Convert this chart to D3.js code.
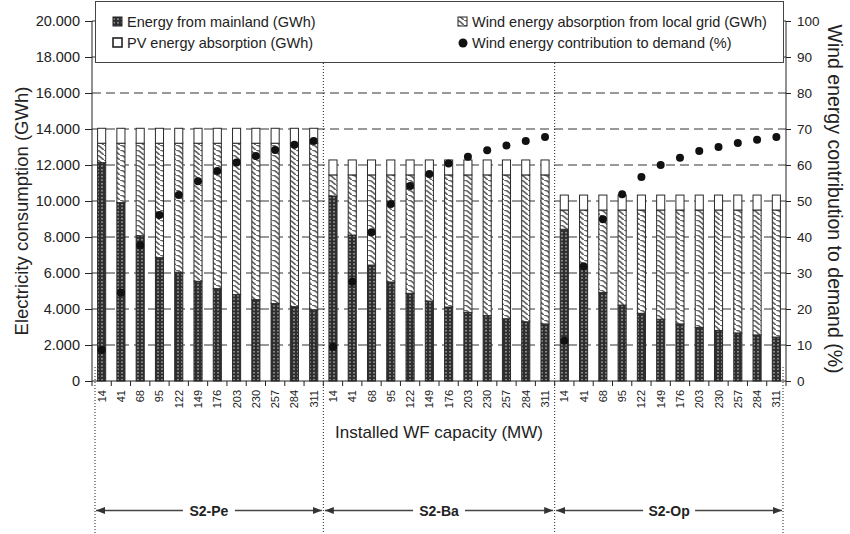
<!DOCTYPE html>
<html>
<head>
<meta charset="utf-8">
<script src="https://cdn.jsdelivr.net/npm/d3@7"></script>
<style>
  body { margin: 0; background: #fff; }
  svg { font-family: Arial, "Liberation Sans", sans-serif; }
</style>
</head>
<body>
<div id="chart"></div>
<script>
// capacities (MW) repeated for each scenario group
var capacities = [14, 41, 68, 95, 122, 149, 176, 203, 230, 257, 284, 311];
var groups = ["S2-Pe", "S2-Ba", "S2-Op"];

// GWh, 12 bars per group, in group order
var mainland = [
  12130, 9910, 8070, 6850, 6040, 5540, 5130, 4800, 4520, 4300, 4130, 3960,
  10280, 8110, 6440, 5500, 4870, 4440, 4110, 3810, 3630, 3460, 3290, 3170,
  8430, 6260, 4910, 4220, 3760, 3430, 3170, 2980, 2810, 2670, 2560, 2440
];
var windAbs = [
  1080, 3300, 5140, 6360, 7170, 7670, 8080, 8410, 8690, 8910, 9080, 9250,
  1170, 3340, 5010, 5950, 6580, 7010, 7340, 7640, 7820, 7990, 8160, 8280,
  1070, 3240, 4590, 5280, 5740, 6070, 6330, 6520, 6690, 6830, 6940, 7060
];
var pvAbs = [
  830, 830, 830, 830, 830, 830, 830, 830, 830, 830, 830, 830,
  830, 830, 830, 830, 830, 830, 830, 830, 830, 830, 830, 830,
  830, 830, 830, 830, 830, 830, 830, 830, 830, 830, 830, 830
];
// %
var windShare = [
  8.6, 24.5, 37.7, 46.1, 51.7, 55.5, 58.3, 60.7, 62.5, 64.2, 65.6, 66.7,
  9.5, 27.6, 41.3, 49.2, 54.2, 57.5, 60.4, 62.3, 64.1, 65.4, 66.7, 67.8,
  11.2, 31.9, 44.9, 51.9, 56.7, 60.0, 62.0, 63.9, 65.0, 66.1, 67.0, 67.8
];
var leftTicks = [0, 2000, 4000, 6000, 8000, 10000, 12000, 14000, 16000, 18000, 20000];
var rightTicks = [0, 10, 20, 30, 40, 50, 60, 70, 80, 90, 100];

var width = 850, height = 534;
var pLeft = 92, pRight = 786, pTop = 21, pBottom = 381;

// build rows
var rows = [];
groups.forEach(function(g, gi) {
  capacities.forEach(function(c, ci) {
    var i = gi * 12 + ci;
    rows.push({ key: g + "-" + c, group: g, cap: c,
      mainland: mainland[i], wind: windAbs[i], pv: pvAbs[i], share: windShare[i] });
  });
});

var svg = d3.select("#chart").append("svg")
  .attr("width", width).attr("height", height);

var defs = svg.append("defs");
var pMain = defs.append("pattern").attr("id", "pMain")
  .attr("patternUnits", "userSpaceOnUse").attr("width", 4).attr("height", 3.5);
pMain.append("rect").attr("width", 4).attr("height", 3.5).attr("fill", "#2e2e2e");
pMain.append("rect").attr("x", 1.2).attr("y", 1).attr("width", 1.6).attr("height", 1.3).attr("fill", "#bdbdbd");

var pWind = defs.append("pattern").attr("id", "pWind")
  .attr("patternUnits", "userSpaceOnUse").attr("width", 8).attr("height", 5);
pWind.append("rect").attr("width", 8).attr("height", 5).attr("fill", "#fff");
pWind.append("path").attr("d", "M0,0 C4,0 5,3 8,5").attr("fill", "none")
  .attr("stroke", "#666").attr("stroke-width", 1.6);

var x = d3.scaleBand()
  .domain(rows.map(function(d) { return d.key; }))
  .range([pLeft, pRight])
  .paddingInner(0.58).paddingOuter(0.29);
var step = x.step();

var y = d3.scaleLinear().domain([0, 20000]).range([pBottom, pTop]);
var y2 = d3.scaleLinear().domain([0, 100]).range([pBottom, pTop]);

// dashed gridlines
svg.append("g").selectAll("line")
  .data(leftTicks.filter(function(t) { return t > 0; }))
  .enter().append("line")
  .attr("x1", pLeft).attr("x2", pRight)
  .attr("y1", function(d) { return y(d); }).attr("y2", function(d) { return y(d); })
  .attr("stroke", "#333").attr("stroke-width", 1)
  .attr("stroke-dasharray", "9,5");

// group separators (dotted)
var bounds = [];
groups.forEach(function(g) {
  bounds.push(x(g + "-" + capacities[0]) - step * 0.29);
});
bounds.push(pRight);
var sep = svg.append("g");
bounds.forEach(function(b, i) {
  var isEnd = (i === 0 || i === bounds.length - 1);
  var bx = i === 0 ? b + 3 : (i === bounds.length - 1 ? b - 3 : b);
  sep.append("line")
    .attr("x1", bx).attr("x2", bx)
    .attr("y1", isEnd ? 367 : 63).attr("y2", height)
    .attr("stroke", "#222").attr("stroke-width", 1)
    .attr("stroke-dasharray", "1,2");
});

// stacked bars
var keys = ["mainland", "wind", "pv"];
var fills = { mainland: "url(#pMain)", wind: "url(#pWind)", pv: "#fff" };
var stack = d3.stack().keys(keys)(rows);

svg.append("g").selectAll("g")
  .data(stack)
  .enter().append("g")
  .attr("fill", function(d) { return fills[d.key]; })
  .selectAll("rect")
  .data(function(d) { return d; })
  .enter().append("rect")
  .attr("x", function(d) { return x(d.data.key); })
  .attr("width", x.bandwidth())
  .attr("y", function(d) { return y(d[1]); })
  .attr("height", function(d) { return y(d[0]) - y(d[1]); })
  .attr("stroke", "#2a2a2a").attr("stroke-width", 1);

// dots
svg.append("g").selectAll("circle")
  .data(rows)
  .enter().append("circle")
  .attr("cx", function(d) { return x(d.key) + x.bandwidth() / 2; })
  .attr("cy", function(d) { return y2(d.share); })
  .attr("r", 4)
  .attr("fill", "#111");

// left axis
var yAxis = svg.append("g").attr("transform", "translate(" + pLeft + ",0)")
  .call(d3.axisLeft(y).tickValues(leftTicks).tickSize(7).tickPadding(5)
    .tickFormat(function(d) { return d === 0 ? "0" : d3.format(",")(d).replace(",", "."); }));
yAxis.selectAll("text").attr("font-size", "14.5px").attr("fill", "#222");
yAxis.selectAll("line").attr("stroke", "#222");
yAxis.select(".domain").attr("stroke", "#222").attr("d", "M0," + pTop + "V" + pBottom);

// right axis
var y2Axis = svg.append("g").attr("transform", "translate(" + pRight + ",0)")
  .call(d3.axisRight(y2).tickValues(rightTicks).tickSize(5).tickPadding(6));
y2Axis.selectAll("text").attr("font-size", "13.5px").attr("fill", "#222");
y2Axis.selectAll("line").attr("stroke", "#222");
y2Axis.select(".domain").attr("stroke", "#222").attr("d", "M0," + pTop + "V" + pBottom);

// x axis
svg.append("line").attr("x1", pLeft).attr("x2", pRight)
  .attr("y1", pBottom).attr("y2", pBottom).attr("stroke", "#222");
svg.append("g").selectAll("line")
  .data(d3.range(rows.length + 1))
  .enter().append("line")
  .attr("x1", function(i) { return pLeft + i * step; })
  .attr("x2", function(i) { return pLeft + i * step; })
  .attr("y1", pBottom).attr("y2", pBottom + 5)
  .attr("stroke", "#222");
svg.append("g").selectAll("text")
  .data(rows)
  .enter().append("text")
  .attr("transform", function(d) {
    return "translate(" + (x(d.key) + x.bandwidth() / 2 + 4) + "," + (pBottom + 9) + ") rotate(-90)";
  })
  .attr("text-anchor", "end")
  .attr("font-size", "11px").attr("fill", "#222")
  .text(function(d) { return d.cap; });

// axis titles
svg.append("text")
  .attr("transform", "translate(28," + ((pTop + pBottom) / 2 + 10) + ") rotate(-90)")
  .attr("text-anchor", "middle").attr("font-size", "18.5px").attr("fill", "#222")
  .text("Electricity consumption (GWh)");
svg.append("text")
  .attr("transform", "translate(828," + ((pTop + pBottom) / 2 - 2) + ") rotate(90)")
  .attr("text-anchor", "middle").attr("font-size", "19.5px").attr("fill", "#222")
  .text("Wind energy contribution to demand (%)");
svg.append("text")
  .attr("x", 439).attr("y", 438)
  .attr("text-anchor", "middle").attr("font-size", "17px").attr("fill", "#222")
  .text("Installed WF capacity (MW)");

// group arrows
defs.append("marker").attr("id", "arrow")
  .attr("viewBox", "0 0 10 10").attr("refX", 10).attr("refY", 5)
  .attr("markerWidth", 6).attr("markerHeight", 6).attr("orient", "auto-start-reverse")
  .append("path").attr("d", "M0,1 L10,5 L0,9 Z").attr("fill", "#333");

var ga = svg.append("g");
groups.forEach(function(g, gi) {
  var x0 = bounds[gi] + (gi === 0 ? 4 : 1.5);
  var x1 = bounds[gi + 1] - (gi === groups.length - 1 ? 4 : 1.5);
  var cx = (x0 + x1) / 2;
  ga.append("line").attr("x1", x0).attr("x2", x1).attr("y1", 510.5).attr("y2", 510.5)
    .attr("stroke", "#444").attr("stroke-width", 1.5)
    .attr("marker-start", "url(#arrow)").attr("marker-end", "url(#arrow)");
  ga.append("rect").attr("x", cx - 26).attr("y", 500).attr("width", 52).attr("height", 20)
    .attr("fill", "#fff");
  ga.append("text").attr("x", cx).attr("y", 515.5)
    .attr("text-anchor", "middle").attr("font-size", "14px").attr("font-weight", "bold")
    .attr("fill", "#222").text(g);
});

// legend
var lg = svg.append("g");
lg.append("rect").attr("x", 95.5).attr("y", 1.5).attr("width", 688).attr("height", 61)
  .attr("fill", "#fff").attr("stroke", "#444").attr("stroke-width", 1);
var legendItems = [
  { label: "Energy from mainland (GWh)", type: "mainland", lx: 113, ly: 27 },
  { label: "PV energy absorption (GWh)", type: "pv", lx: 113, ly: 48 },
  { label: "Wind energy absorption from local grid (GWh)", type: "wind", lx: 458, ly: 27 },
  { label: "Wind energy contribution to demand (%)", type: "dot", lx: 458, ly: 48 }
];
legendItems.forEach(function(it) {
  if (it.type === "dot") {
    lg.append("circle").attr("cx", it.lx + 5).attr("cy", it.ly - 5).attr("r", 4.5).attr("fill", "#111");
  } else {
    lg.append("rect").attr("x", it.lx).attr("y", it.ly - 10).attr("width", 9).attr("height", 9)
      .attr("fill", fills[it.type]).attr("stroke", "#222")
      .attr("stroke-width", it.type === "pv" ? 1.6 : 1);
  }
  lg.append("text").attr("x", it.lx + 14).attr("y", it.ly)
    .attr("font-size", "14.5px").attr("fill", "#222").text(it.label);
});
</script>
</body>
</html>
